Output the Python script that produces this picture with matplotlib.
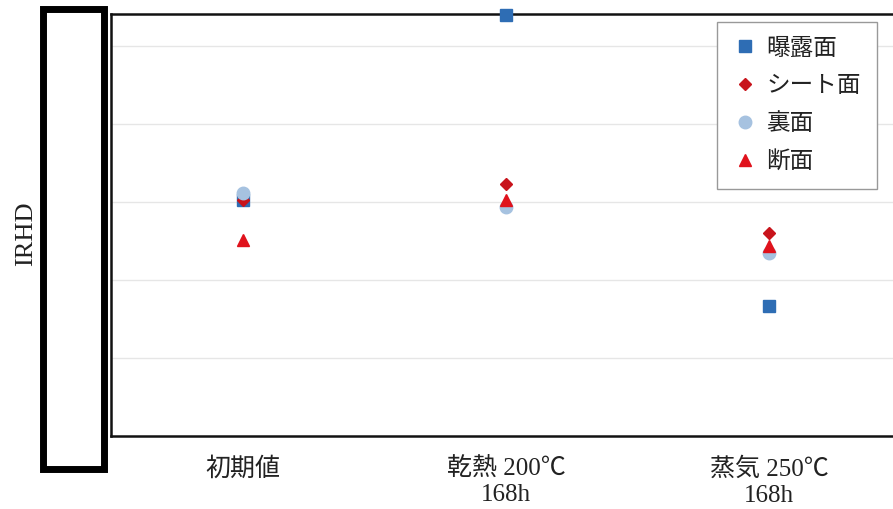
import matplotlib.pyplot as plt
from matplotlib.patches import Rectangle

plt.rcParams['font.family'] = ['Liberation Serif', 'Noto Sans CJK JP', 'DejaVu Sans']

# categories and series (IRHD; tick values are hidden in the source)
categories = ['初期値', '乾熱 200℃\n168h', '蒸気 250℃\n168h']
exposed = [70.3, 94.0, 56.7]      # 曝露面
sheet = [70.3, 72.3, 66.0]        # シート面
back = [71.2, 69.4, 63.5]         # 裏面
section = [65.1, 70.3, 64.4]      # 断面

series_labels = ['曝露面', 'シート面', '裏面', '断面']

fig = plt.figure(figsize=(8.93, 5.09), dpi=100)
ax = fig.add_axes([111 / 893, 1 - 436 / 509, 790 / 893, 422 / 509])

x = list(range(len(categories)))
ax.plot(x, exposed, 's', color='#2E6DB4', markersize=9, label=series_labels[0], zorder=3, clip_on=False)
ax.plot(x, sheet, 'D', color='#C8141C', markersize=6.5, label=series_labels[1], zorder=4, clip_on=False)
ax.plot(x, back, 'o', color='#A6C2E0', markersize=9, label=series_labels[2], zorder=5, clip_on=False)
ax.plot(x, section, '^', color='#E0121C', markersize=9, label=series_labels[3], zorder=6, clip_on=False)

ax.set_xlim(-0.5, 2.5)
ax.set_ylim(40, 40 + 422 / 78 * 10)
ax.set_yticks([50, 60, 70, 80, 90])
ax.set_yticklabels([])
ax.tick_params(axis='y', length=0)
ax.tick_params(axis='x', length=0, pad=15, labelsize=18, labelcolor='#222222')
ax.set_xticks(x)
ax.set_xticklabels(categories, linespacing=1.25)
ax.grid(axis='y', color='#E6E6E6', linewidth=1)
ax.set_axisbelow(True)
for s in ax.spines.values():
    s.set_color('#111111')
    s.set_linewidth(1.8)

# redaction box over the y tick labels
fig.patches.append(Rectangle((42.5 / 893, 1 - 468.5 / 509), 61 / 893, 460 / 509,
                             transform=fig.transFigure, facecolor='white',
                             edgecolor='black', linewidth=5, zorder=10))

fig.text(26 / 893, 1 - 234 / 509, 'IRHD', rotation=90, ha='center', va='center',
         fontsize=19, family='Liberation Serif', color='#222222')

leg = ax.legend(loc='upper right', bbox_to_anchor=(877 / 893, 1 - 22 / 509),
                bbox_transform=fig.transFigure, fontsize=17, frameon=True,
                fancybox=False, framealpha=1, edgecolor='#999999',
                labelspacing=0.68, handletextpad=0.4, handlelength=1.0,
                borderpad=0.68, borderaxespad=0)
leg.get_frame().set_linewidth(1)
for t in leg.get_texts():
    t.set_color('#222222')

fig.savefig('out.png', dpi=100)
